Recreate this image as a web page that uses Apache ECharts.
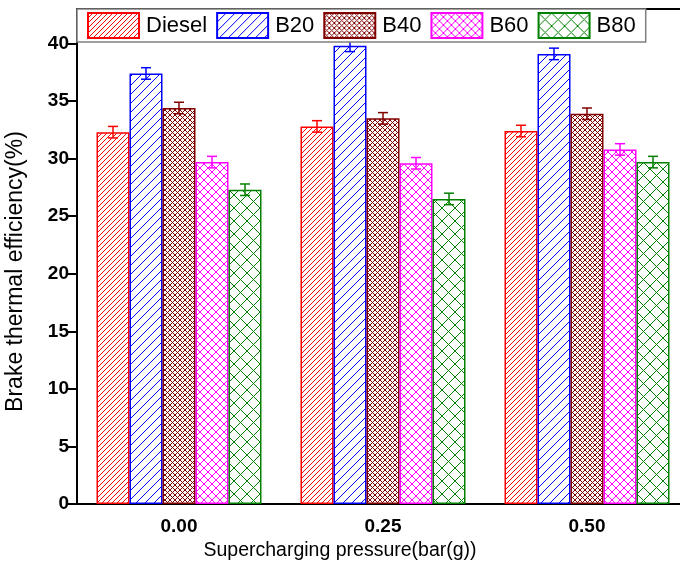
<!DOCTYPE html>
<html><head><meta charset="utf-8">
<script src="https://cdn.jsdelivr.net/npm/echarts@6/dist/echarts.min.js"></script>
<style>html,body{margin:0;padding:0;background:#fff}#c{width:680px;height:566px}</style>
</head><body><div id="c"></div>
<script>
const categories = ['0.00', '0.25', '0.50'];
const seriesNames = ['Diesel', 'B20', 'B40', 'B60', 'B80'];
const diesel = [32.3, 32.8, 32.4];
const b20 = [37.4, 39.8, 39.1];
const b40 = [34.4, 33.5, 33.9];
const b60 = [29.7, 29.6, 30.8];
const b80 = [27.3, 26.5, 29.7];
const dieselErr = [0.5, 0.5, 0.5];
const b20Err = [0.5, 0.5, 0.5];
const b40Err = [0.5, 0.5, 0.5];
const b60Err = [0.5, 0.5, 0.5];
const b80Err = [0.5, 0.5, 0.5];
const yTicks = [0, 5, 10, 15, 20, 25, 30, 35, 40];

const values = [diesel, b20, b40, b60, b80];
const errs = [dieselErr, b20Err, b40Err, b60Err, b80Err];
const colors = ['#FF0000', '#0000FF', '#800000', '#FF00FF', '#008000'];
const pat = [
  {size: 5, a: true, b: false},
  {size: 9, a: true, b: false},
  {size: 5, a: true, b: true},
  {size: 8, a: true, b: true},
  {size: 13, a: true, b: true}
];
function makePattern(color, p) {
  const s = p.size;
  const c = document.createElement('canvas');
  c.width = s; c.height = s;
  const ctx = c.getContext('2d');
  ctx.fillStyle = '#fff'; ctx.fillRect(0, 0, s, s);
  ctx.strokeStyle = color; ctx.lineWidth = 1;
  ctx.beginPath();
  for (let k = -1; k <= 1; k++) {
    if (p.a) { ctx.moveTo(k * s, s); ctx.lineTo(k * s + s, 0); }
    if (p.b) { ctx.moveTo(k * s, 0); ctx.lineTo(k * s + s, s); }
  }
  ctx.stroke();
  return {image: c, repeat: 'repeat'};
}
const BW = 33;
const series = [];
seriesNames.forEach((n, i) => {
  series.push({
    name: n, type: 'bar', barWidth: BW, barGap: '0%',
    data: values[i],
    itemStyle: {color: makePattern(colors[i], pat[i]), borderColor: colors[i], borderWidth: 1.5, borderRadius: 0, borderJoin: 'miter'},
    emphasis: {disabled: true}
  });
});
seriesNames.forEach((n, i) => {
  series.push({
    type: 'custom', z: 5,
    data: values[i].map((v, j) => [j, v, errs[i][j]]),
    renderItem: function (params, api) {
      const x = api.value(0), v = api.value(1), e = api.value(2);
      const pTop = api.coord([x, v + e]);
      const pBot = api.coord([x, v - e]);
      const cx = pTop[0] + (i - 2) * BW;
      const hw = 5;
      const st = {stroke: colors[i], lineWidth: 1.5, fill: null};
      return {type: 'group', children: [
        {type: 'line', shape: {x1: cx, y1: pTop[1], x2: cx, y2: pBot[1]}, style: st},
        {type: 'line', shape: {x1: cx - hw, y1: pTop[1], x2: cx + hw, y2: pTop[1]}, style: st},
        {type: 'line', shape: {x1: cx - hw, y1: pBot[1], x2: cx + hw, y2: pBot[1]}, style: st}
      ]};
    }
  });
});

const chart = echarts.init(document.getElementById('c'), null, {renderer: 'canvas'});
chart.setOption({
  animation: false,
  backgroundColor: '#fff',
  grid: {left: 77, right: -9, top: 9, bottom: 62, outerBoundsMode: 'none', show: true, borderColor: '#000', borderWidth: 2, backgroundColor: 'transparent'},
  legend: {
    data: seriesNames, left: 77, top: 9, orient: 'horizontal',
    icon: 'rect',
    itemWidth: 51, itemHeight: 25, itemGap: 9,
    itemStyle: {borderJoin: 'miter', borderCap: 'butt', borderRadius: 0},
    padding: [3, 10, 3, 10],
    backgroundColor: '#fff', borderColor: '#808080', borderWidth: 1.5, borderRadius: 0,
    textStyle: {fontFamily: 'Liberation Sans, Arial', fontSize: 22, color: '#000', padding: [0, 0, 0, 2]},
    selectedMode: false, z: 10
  },
  xAxis: {
    type: 'category', data: categories,
    name: 'Supercharging pressure(bar(g))', nameLocation: 'middle', nameGap: 36,
    nameTextStyle: {fontFamily: 'Liberation Sans, Arial', fontSize: 19.5, color: '#000', padding: [0, 86, 0, 0]},
    axisLine: {lineStyle: {color: '#000', width: 2}},
    axisTick: {alignWithLabel: true, length: 8, lineStyle: {width: 2, color: '#000'}},
    axisLabel: {fontFamily: 'Liberation Sans, Arial', fontWeight: 'bold', fontSize: 19, color: '#000', margin: 13},
    splitLine: {show: false}
  },
  yAxis: {
    type: 'value', min: 0, max: 43, interval: 5,
    name: 'Brake thermal efficiency(%)', nameLocation: 'middle', nameGap: 50,
    nameTextStyle: {fontFamily: 'Liberation Sans, Arial', fontSize: 23, color: '#000', padding: [0, 30, 0, 0]},
    axisLine: {show: true, lineStyle: {color: '#000', width: 2}},
    axisTick: {show: true, length: 9, lineStyle: {width: 2, color: '#000'}},
    axisLabel: {fontFamily: 'Liberation Sans, Arial', fontWeight: 'bold', fontSize: 19, color: '#000', margin: 8, showMaxLabel: false,
      formatter: v => yTicks.indexOf(v) >= 0 ? String(v) : ''},
    splitLine: {show: false}
  },
  series: series
});
</script></body></html>
